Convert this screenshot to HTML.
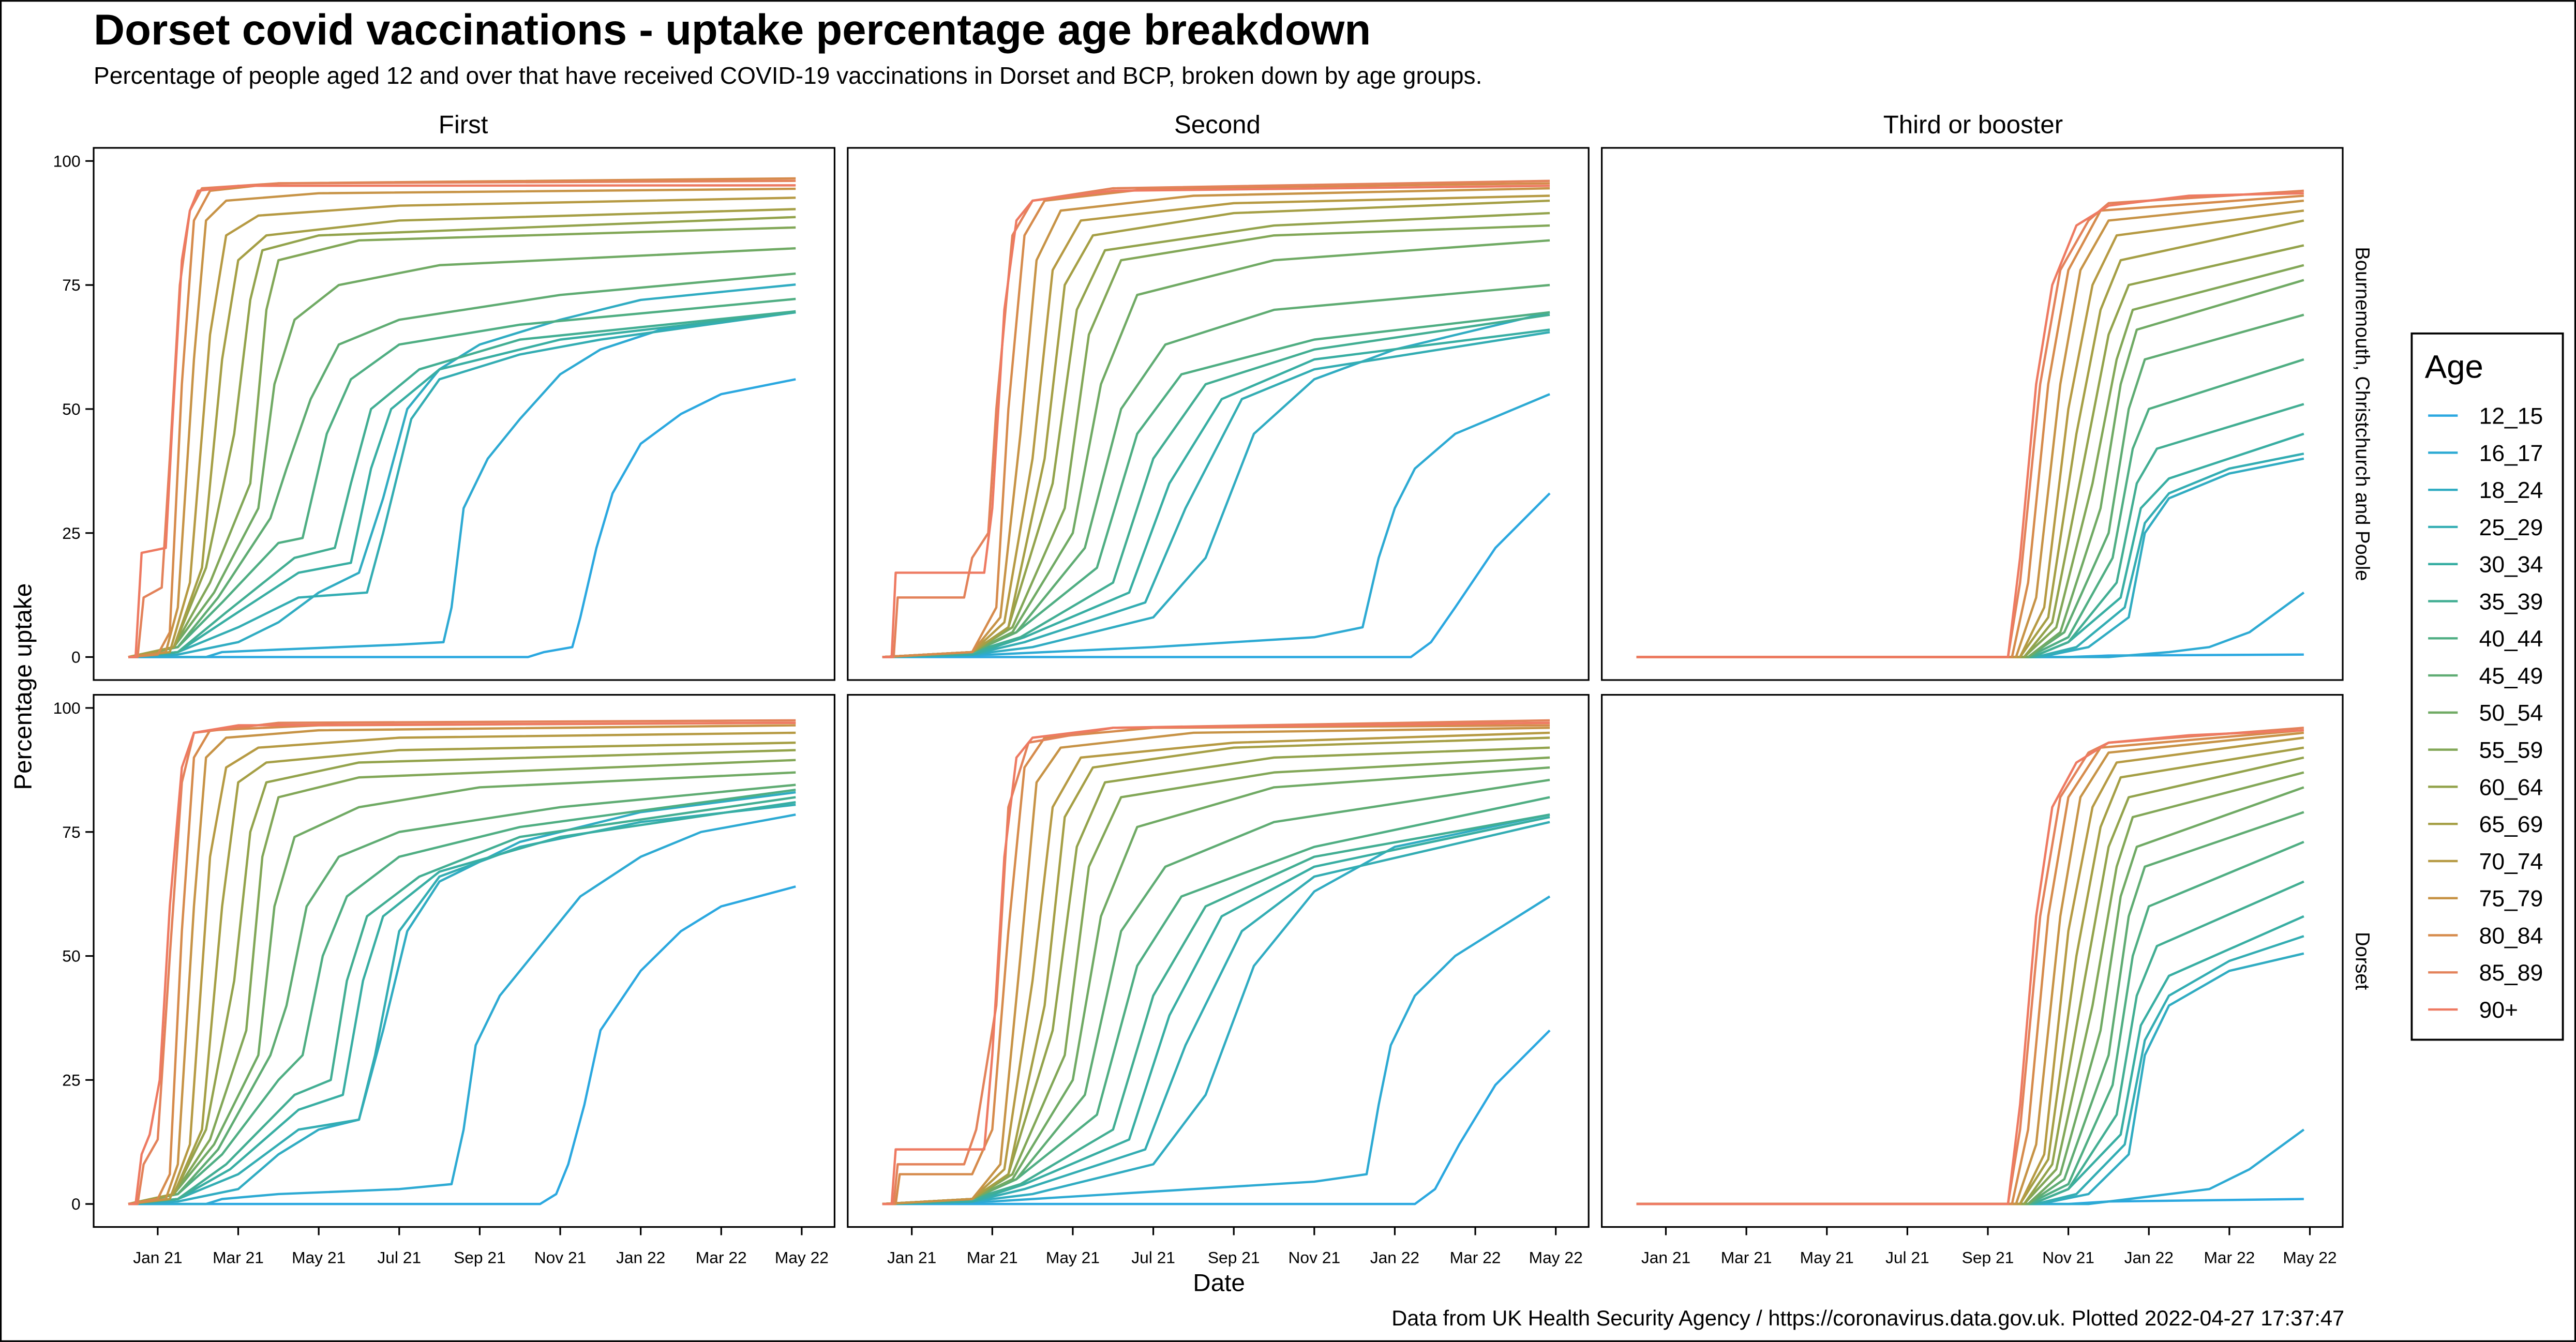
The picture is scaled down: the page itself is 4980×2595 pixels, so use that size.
<!DOCTYPE html>
<html><head><meta charset="utf-8"><style>
html,body{margin:0;padding:0;background:#fff}
svg{display:block;font-family:"Liberation Sans",sans-serif}
</style></head><body>
<svg id="chart" width="4980" height="2595" viewBox="0 0 1568 817" xmlns="http://www.w3.org/2000/svg">
<rect x="0.5" y="0.5" width="1567" height="816" fill="#fff" stroke="#000" stroke-width="1"/>
<text x="57" y="27" font-size="26.2" font-weight="bold">Dorset covid vaccinations - uptake percentage age breakdown</text>
<text x="57" y="51" font-size="14.5">Percentage of people aged 12 and over that have received COVID-19 vaccinations in Dorset and BCP, broken down by age groups.</text>
<text x="282" y="81" font-size="15.5" text-anchor="middle">First</text>
<text x="741" y="81" font-size="15.5" text-anchor="middle">Second</text>
<text x="1201" y="81" font-size="15.5" text-anchor="middle">Third or booster</text>
<text transform="translate(1434,252) rotate(90)" font-size="12" text-anchor="middle">Bournemouth, Christchurch and Poole</text>
<text transform="translate(1434,585) rotate(90)" font-size="12" text-anchor="middle">Dorset</text>
<text x="742" y="786" font-size="15" text-anchor="middle">Date</text>
<text transform="translate(19,418) rotate(-90)" font-size="15" text-anchor="middle">Percentage uptake</text>
<text x="1427" y="807" font-size="13.1" text-anchor="end">Data from UK Health Security Agency / https://coronavirus.data.gov.uk. Plotted 2022-04-27 17:37:47</text>
<g id="panels"></g>
<g id="legend"></g>
</svg>
<script>
const ageGroups = ["12_15","16_17","18_24","25_29","30_34","35_39","40_44","45_49","50_54","55_59","60_64","65_69","70_74","75_79","80_84","85_89","90+"];
const xTickLabels = ["Jan 21","Mar 21","May 21","Jul 21","Sep 21","Nov 21","Jan 22","Mar 22","May 22"];
const xTickMonths = [0,2,4,6,8,10,12,14,16];
const yTickValues = [0,25,50,75,100];
// series: [monthsSinceJan2021, percent, ...]
const firstBCP = [
[-0.73,0,9.2,0,9.6,1,10.3,2,10.5,8,10.9,22,11.3,33,12,43,13,49,14,53,15.85,56],
[-0.73,0,1.2,0,1.6,1,3,1.5,6,2.5,7.1,3,7.3,10,7.6,30,8.2,40,9,48,10,57,11,62,12.5,66,15.85,69.5],
[-0.73,0,0.5,0.5,2,3,3,7,4,13,5,17,5.6,32,6.2,50,7,58,8,63,10,68,12,72,15.85,75.1],
[-0.73,0,0.5,1,2,6,3.5,12,5.2,13,5.6,25,6.3,48,7,56,9,61,11,64,15.85,69.5],
[-0.73,0,0.5,1,1.8,8,3.5,17,4.8,19,5.3,38,5.8,50,7,58,10,64,15.85,69.5],
[-0.73,0,0.5,1,1.7,9,3.4,20,4.4,22,4.8,35,5.3,50,6.5,58,9,64,15.85,69.7],
[-0.73,0,0.5,2,1.6,11,3.0,23,3.6,24,4.2,45,4.8,56,6,63,9,67,15.85,72.2],
[-0.73,0,0.5,2,1.5,12,2.8,28,3.2,38,3.8,52,4.5,63,6,68,10,73,15.85,77.3],
[-0.73,0,0.4,2,1.4,13,2.5,30,2.9,55,3.4,68,4.5,75,7,79,15.85,82.4],
[-0.73,0,0.4,2,1.3,15,2.3,35,2.7,70,3.0,80,5,84,15.85,86.6],
[-0.73,0,0.4,2,1.2,18,1.9,45,2.3,72,2.6,82,4,85,15.85,88.7],
[-0.73,0,0.4,2,1.1,18,1.6,60,2.0,80,2.7,85,6,88,15.85,90.3],
[-0.73,0,0.3,1,0.8,15,1.3,65,1.7,85,2.5,89,6,91,15.85,92.6],
[-0.73,0,0.2,1,0.5,10,0.9,60,1.2,88,1.7,92,4,93.5,15.85,94.4],
[-0.73,0,0,0.5,0.3,5,0.6,55,0.9,88,1.3,94,3,95.5,15.85,96.5],
[-0.73,0,-0.5,0,-0.35,12,0.1,14,0.3,40,0.55,75,0.8,90,1.1,94.5,3,95.5,15.85,96],
[-0.73,0,-0.55,0,-0.4,21,0.2,22,0.35,45,0.6,80,0.8,90,1.0,94,2,95,15.85,95.1]];
const secondBCP = [
[-0.73,0,12.4,0,12.9,3,13.5,10,14.5,22,15.85,33],
[-0.73,0,2,0.5,6,2,10,4,11.2,6,11.6,20,12,30,12.5,38,13.5,45,15.85,53],
[-0.73,0,1.5,0.5,3,2,6,8,7.3,20,8.5,45,10,56,12,62,15.85,69.5],
[-0.73,0,1.5,0.5,2.8,3,5.8,11,6.8,30,8.2,52,10,58,15.85,65.5],
[-0.73,0,1.5,0.5,2.8,4,5.4,13,6.4,35,7.7,52,10,60,15.85,66],
[-0.73,0,1.5,1,2.7,4,5.0,15,6.0,40,7.3,55,10,62,15.85,69],
[-0.73,0,1.5,1,2.6,5,4.6,18,5.6,45,6.7,57,10,64,15.85,69.5],
[-0.73,0,1.5,1,2.6,5,4.3,22,5.2,50,6.3,63,9,70,15.85,75],
[-0.73,0,1.5,1,2.5,5,4.0,25,4.7,55,5.6,73,9,80,15.85,84],
[-0.73,0,1.5,1,2.5,6,3.8,30,4.4,65,5.2,80,9,85,15.85,87],
[-0.73,0,1.5,1,2.4,6,3.5,35,4.1,70,4.8,82,9,87,15.85,89.5],
[-0.73,0,1.5,1,2.4,6,3.3,40,3.8,75,4.5,85,8,89.5,15.85,92],
[-0.73,0,1.5,1,2.3,7,3.0,40,3.5,78,4.2,88,8,91.5,15.85,93],
[-0.73,0,1.5,1,2.2,8,2.7,45,3.1,80,3.7,90,7,93,15.85,94.5],
[-0.73,0,1.5,1,2.1,10,2.4,50,2.8,85,3.3,92,6,94.5,15.85,95.5],
[-0.73,0,-0.45,0,-0.35,12,1.3,12,1.5,20,1.9,25,2.1,50,2.5,85,3,92,5,94.5,15.85,96],
[-0.73,0,-0.5,0,-0.4,17,1.8,17,2.0,30,2.3,70,2.6,88,3,92,5,94,15.85,95]];
const thirdBCP = [
[-0.73,0,10,0,11,0.3,15.85,0.5],
[-0.73,0,11,0,12.5,1,13.5,2,14.5,5,15.85,13],
[-0.73,0,9.3,0,10.5,2,11.5,8,11.9,25,12.5,32,14,37,15.85,40],
[-0.73,0,9.2,0,10.2,2,11.4,10,11.9,27,12.5,33,14,38,15.85,41],
[-0.73,0,9.1,0,10,3,11.3,12,11.8,30,12.5,36,15.85,45],
[-0.73,0,9.1,0,10,3,11.2,15,11.7,35,12.2,42,15.85,51],
[-0.73,0,9,0,10,4,11.1,20,11.6,42,12,50,15.85,60],
[-0.73,0,9,0,9.9,5,11,25,11.5,50,11.9,60,15.85,69],
[-0.73,0,9,0,9.8,5,10.8,30,11.3,55,11.7,66,15.85,76],
[-0.73,0,8.9,0,9.7,6,10.6,35,11.2,60,11.6,70,15.85,79],
[-0.73,0,8.9,0,9.6,7,10.4,40,11,65,11.5,75,15.85,83],
[-0.73,0,8.8,0,9.5,8,10.2,45,10.8,70,11.3,80,15.85,88],
[-0.73,0,8.8,0,9.4,10,10.0,50,10.6,75,11.2,85,15.85,90],
[-0.73,0,8.7,0,9.2,12,9.8,55,10.3,78,11,88,15.85,92],
[-0.73,0,8.6,0,9,15,9.5,55,10,78,10.8,90,15.85,93],
[-0.73,0,8.5,0,8.8,15,9.3,55,9.8,78,10.5,88,11,91.5,15.85,94],
[-0.73,0,8.5,0,8.8,20,9.2,55,9.6,75,10.2,87,11,91,13,93,15.85,93.5]];
const firstDorset = [
[-0.73,0,9.5,0,9.9,2,10.2,8,10.6,20,11,35,12,47,13,55,14,60,15.85,64],
[-0.73,0,1.2,0,1.6,1,3,2,6,3,7.3,4,7.6,15,7.9,32,8.5,42,9.5,52,10.5,62,12,70,13.5,75,15.85,78.5],
[-0.73,0,0.5,0.5,2,3,3,10,4,15,5,17,5.6,35,6.2,55,7,65,9,73,12,79,15.85,83],
[-0.73,0,0.5,1,2,6,3.5,15,5.0,17,5.4,30,6,55,7,66,9,72,12,77,15.85,80.5],
[-0.73,0,0.5,1,1.8,7,3.5,19,4.6,22,5.1,45,5.6,58,7,67,10,74,15.85,81],
[-0.73,0,0.5,1,1.7,8,3.4,22,4.3,25,4.7,45,5.2,58,6.5,66,9,74,15.85,82],
[-0.73,0,0.5,2,1.6,10,3.0,25,3.6,30,4.1,50,4.7,62,6,70,9,76,15.85,83.5],
[-0.73,0,0.5,2,1.5,11,2.8,30,3.2,40,3.7,60,4.5,70,6,75,10,80,15.85,84.5],
[-0.73,0,0.4,2,1.4,12,2.5,30,2.9,60,3.4,74,5,80,8,84,15.85,87],
[-0.73,0,0.4,2,1.3,13,2.2,35,2.6,70,3.0,82,5,86,15.85,89.5],
[-0.73,0,0.4,2,1.2,15,1.9,45,2.3,75,2.7,85,5,89,15.85,91.5],
[-0.73,0,0.4,2,1.1,15,1.6,60,2.0,85,2.7,89,6,91.5,15.85,93],
[-0.73,0,0.3,1,0.8,12,1.3,70,1.7,88,2.5,92,6,94,15.85,95],
[-0.73,0,0.2,1,0.5,8,0.9,60,1.2,90,1.7,94,4,95.5,15.85,96.5],
[-0.73,0,0,1,0.3,6,0.6,55,0.9,90,1.3,95.5,4,96.5,15.85,97],
[-0.73,0,-0.5,0,-0.35,8,0,13,0.3,50,0.6,85,0.9,95,3,97,15.85,97.5],
[-0.73,0,-0.55,0,-0.4,10,-0.2,14,0.05,25,0.3,60,0.6,88,0.9,95,2,96.5,15.85,97]];
const secondDorset = [
[-0.73,0,12.5,0,13,3,13.6,12,14.5,24,15.85,35],
[-0.73,0,2,0.5,6,2.5,10,4.5,11.3,6,11.6,20,11.9,32,12.5,42,13.5,50,15.85,62],
[-0.73,0,1.5,0.5,3,2,6,8,7.3,22,8.5,48,10,63,12,72,15.85,78.5],
[-0.73,0,1.5,0.5,2.8,3,5.8,11,6.8,32,8.2,55,10,66,15.85,77],
[-0.73,0,1.5,0.5,2.8,4,5.4,13,6.4,38,7.7,58,10,68,15.85,78],
[-0.73,0,1.5,1,2.7,4,5.0,15,6.0,42,7.3,60,10,70,15.85,78.5],
[-0.73,0,1.5,1,2.6,5,4.6,18,5.6,48,6.7,62,10,72,15.85,82],
[-0.73,0,1.5,1,2.6,5,4.3,22,5.2,55,6.3,68,9,77,15.85,85.5],
[-0.73,0,1.5,1,2.5,5,4.0,25,4.7,58,5.6,76,9,84,15.85,88],
[-0.73,0,1.5,1,2.5,6,3.8,30,4.4,68,5.2,82,9,87,15.85,90],
[-0.73,0,1.5,1,2.4,6,3.5,35,4.1,72,4.8,85,9,90,15.85,92],
[-0.73,0,1.5,1,2.4,6,3.3,40,3.8,78,4.5,88,8,92,15.85,94],
[-0.73,0,1.5,1,2.3,7,3.0,45,3.5,80,4.2,90,8,93,15.85,95],
[-0.73,0,1.5,1,2.2,8,2.7,50,3.1,85,3.7,92,7,95,15.85,96],
[-0.73,0,-0.4,0,-0.3,6,1.5,6,2.0,15,2.4,55,2.8,88,3.3,94,6,96,15.85,96.5],
[-0.73,0,-0.45,0,-0.35,8,1.3,8,1.6,15,2.1,40,2.4,80,2.9,93,5,96,15.85,97.5],
[-0.73,0,-0.5,0,-0.4,11,1.8,11,2.0,30,2.3,70,2.6,90,3,94,5,96,15.85,97]];
const thirdDorset = [
[-0.73,0,10,0,11,0.5,15.85,1],
[-0.73,0,10.5,0,12,1.5,13.5,3,14.5,7,15.85,15],
[-0.73,0,9.3,0,10.5,2,11.5,10,11.9,30,12.5,40,14,47,15.85,50.5],
[-0.73,0,9.2,0,10.2,2,11.4,12,11.9,33,12.5,42,14,49,15.85,54],
[-0.73,0,9.1,0,10,3,11.3,14,11.8,36,12.5,46,15.85,58],
[-0.73,0,9.1,0,10,3,11.2,18,11.7,42,12.2,52,15.85,65],
[-0.73,0,9,0,10,4,11.1,24,11.6,50,12,60,15.85,73],
[-0.73,0,9,0,9.9,5,11,30,11.5,58,11.9,68,15.85,79],
[-0.73,0,9,0,9.8,6,10.8,35,11.3,62,11.7,72,15.85,84],
[-0.73,0,8.9,0,9.7,7,10.6,40,11.2,68,11.6,78,15.85,87],
[-0.73,0,8.9,0,9.6,8,10.4,45,11,72,11.5,82,15.85,90],
[-0.73,0,8.8,0,9.5,9,10.2,50,10.8,76,11.3,86,15.85,92],
[-0.73,0,8.8,0,9.4,10,10.0,55,10.6,80,11.2,89,15.85,94],
[-0.73,0,8.7,0,9.2,12,9.8,58,10.3,82,11,91,15.85,95],
[-0.73,0,8.6,0,9,15,9.5,58,10,82,10.8,92,15.85,95.5],
[-0.73,0,8.5,0,8.8,15,9.3,58,9.8,82,10.5,91,11,93,15.85,96],
[-0.73,0,8.5,0,8.8,20,9.2,58,9.6,80,10.2,89,11,93,13,94.5,15.85,95.5]];
const colors = ["#2ba8e0","#2daad3","#30acc2","#33adb3","#38aea3","#42ae93","#4fae83","#5fac73","#70aa64","#82a757","#93a34c","#a59f45","#b69a43","#c79346","#d68b4c","#e3825a","#ee7a62"];

const NS = "http://www.w3.org/2000/svg";
const colX = [57,516,975], colW = 451;
const rowY = [90,423], rowH = 324;
const panelData = [[firstBCP,secondBCP,thirdBCP],[firstDorset,secondDorset,thirdDorset]];
const panelNames = [["first-bcp","second-bcp","third-bcp"],["first-dorset","second-dorset","third-dorset"]];
function xScale(c,m){return colX[c]+39+m*24.5;}
function yScale(r,v){return rowY[r]+310-v*3.02;}
function mk(tag,attrs,parent){const e=document.createElementNS(NS,tag);for(const k in attrs)e.setAttribute(k,attrs[k]);parent.appendChild(e);return e;}
const panels=document.getElementById('panels');
for(let r=0;r<2;r++){for(let c=0;c<3;c++){
  const g=mk('g',{},panels);
  
  
  const fr=mk('rect',{x:colX[c],y:rowY[r],width:colW,height:rowH,fill:'#fff',stroke:'#000','stroke-width':1},g);
  
  
  const series=panelData[r][c];
  for(let s=0;s<series.length;s++){
    const pts=series[s];let d='';
    for(let i=0;i<pts.length;i+=2){d+=(i?'L':'M')+xScale(c,pts[i]).toFixed(2)+','+yScale(r,pts[i+1]).toFixed(2);}
    const p=mk('path',{d:d,fill:'none',stroke:colors[s],'stroke-width':1.4,'stroke-linejoin':'round'},g);
    
    
  }
  if(c===0){for(const v of yTickValues){
    const y=yScale(r,v);
    const t=mk('line',{x1:colX[0]-5,x2:colX[0],y1:y,y2:y,stroke:'#000','stroke-width':1},g);
    
    
    const tx=mk('text',{x:colX[0]-8,y:y+3.5,'font-size':10,'text-anchor':'end'},g);tx.textContent=v;
    
    
  }}
  if(r===1){for(let i=0;i<xTickMonths.length;i++){
    const x=xScale(c,xTickMonths[i]);
    const t=mk('line',{x1:x,x2:x,y1:rowY[1]+rowH,y2:rowY[1]+rowH+5,stroke:'#000','stroke-width':1},g);
    
    
    const tx=mk('text',{x:x,y:769,'font-size':10,'text-anchor':'middle'},g);tx.textContent=xTickLabels[i];
    
    
  }}
}}
const lg=document.getElementById('legend');


const lb=mk('rect',{x:1468,y:203,width:92,height:430,fill:'#fff',stroke:'#000','stroke-width':1.2},lg);


const lt=mk('text',{x:1476,y:230,'font-size':20},lg);lt.textContent='Age';


for(let i=0;i<ageGroups.length;i++){
  const y=253+i*22.6;
  const e=mk('g',{},lg);
  
  
  mk('line',{x1:1478,x2:1496,y1:y,y2:y,stroke:colors[i],'stroke-width':1.4},e);
  const t=mk('text',{x:1509,y:y+5,'font-size':14},e);t.textContent=ageGroups[i];
}
</script>
</body></html>
